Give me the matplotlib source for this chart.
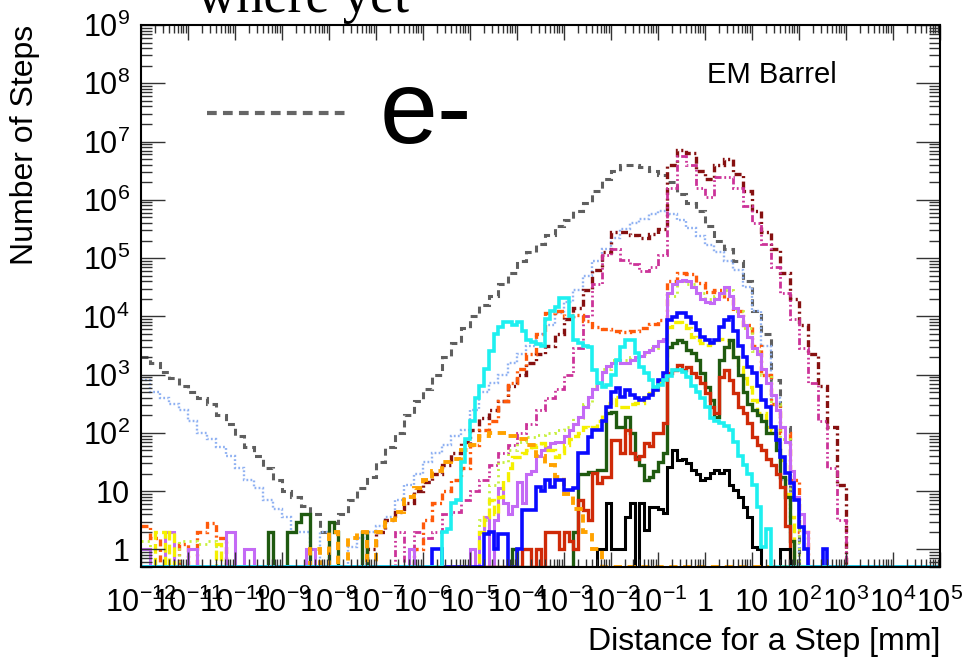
import numpy as np
import matplotlib
matplotlib.use("Agg")
import matplotlib.pyplot as plt
from matplotlib.ticker import FixedLocator, NullFormatter

plt.rcParams['font.family'] = ['Liberation Sans', 'DejaVu Sans']
plt.rcParams['mathtext.fontset'] = 'custom'
plt.rcParams['mathtext.rm'] = 'Liberation Sans'
plt.rcParams['mathtext.it'] = 'Liberation Sans:italic'
plt.rcParams['lines.scale_dashes'] = False

X_LO, X_HI = -12.0, 5.0   # log10(distance / mm)
Y_MIN, Y_MAX = 0.5, 1e9

# ---- data: log10(number of steps) per bin, None = empty bin ----
# dashed / dotted histograms use 0.2 decade bins, solid ones 0.1 decade bins

gray_start = -12.0   # e-
gray = [3.3, 3.2, 3.05, 2.95, 2.8, 2.7, 2.6, 2.5, 2.3, 2.15,
        1.95, 1.75, 1.6, 1.4, 1.2, 1.0, 0.9, 0.75, 0.6, 0.3,
        0.45, 0.6, 0.85, 1.05, 1.25, 1.5, 1.75, 2.0, 2.3, 2.55,
        2.75, 3.0, 3.3, 3.55, 3.8, 4.0, 4.2, 4.35, 4.55, 4.75,
        4.95, 5.1, 5.25, 5.4, 5.55, 5.65, 5.8, 5.95, 6.15, 6.35,
        6.5, 6.6, 6.6, 6.57, 6.5, 6.42, 6.3, 6.1, 5.95, 5.8,
        5.55, 5.3, 5.15, 4.95, 4.6, 4.1, 3.7, 2.9, 2.1, 0.9]

lightblue_start = -12.0
lightblue = [2.9, 2.7, 2.6, 2.5, 2.4, 2.2, 2.0, 1.9, 1.75, 1.6,
             1.4, 1.2, 1.05, 0.85, 0.7, 0.55, 0.3, 0.3, None, 0.3,
             None, None, 0.05, 0.2, 0.3, 0.4, 0.55, 0.85, 1.1, 1.3,
             1.5, 1.65, 1.8, 1.95, 2.05, 2.4, 2.7, 2.85, 3.0, 3.2,
             3.35, 3.5, 3.7, 3.85, 4.05, 4.25, 4.45, 4.7, 4.95, 5.15,
             5.35, 5.5, 5.6, 5.67, 5.75, 5.8, 5.75, 5.65, 5.52, 5.38,
             5.22, 5.1, 4.95, 4.8, 4.5, 4.1, 3.5, 2.6, 1.2, 0.3]

maroon_start = -7.2
maroon = [0.0, 0.3, 0.5, 0.65, 0.8, 1.0, 1.15, 1.3, 1.45, 1.65,
          1.85, 2.05, 2.25, 2.4, 2.55, 2.8, 3.0, 3.2, 3.35, 3.5,
          3.7, 3.95, 4.15, 4.45, 4.8, 5.1, 5.45, 5.45, 5.4, 5.35,
          5.42, 5.5, 6.6, 6.85, 6.8, 6.5, 6.35, 6.6, 6.7, 6.45,
          6.15, 5.8, 5.45, 5.15, 4.75, 4.3, 3.85, 3.35, 2.8, 2.1,
          1.1]

magenta_start = -6.6
magenta = [0.3, None, 0.3, 0.2, 0.3, 0.6, 0.65, 0.85, 1.0, 1.2,
           1.45, 1.65, 1.8, 2.0, 2.15, 2.4, 2.6, 2.75, 3.0, 3.45,
           4.0, 4.55, 5.05, 5.15, 4.97, 4.9, 4.78, 4.85, 5.05, 6.2,
           6.75, 6.6, 6.2, 6.05, 6.4, 6.4, 6.2, 5.9, 5.6, 5.25,
           4.85, 4.4, 3.95, 3.45, 2.85, 2.2, 1.4, 0.5]

orangered_start = -6.0
orangered = [0.5, 0.8, 1.0, 1.2, 1.4, 1.8, 2.05, 2.2, 2.55, 2.85,
             3.1, 3.35, 3.7, 4.05, 4.1, 4.0, 4.02, 3.92, 3.82, 3.78,
             3.75, 3.73, 3.75, 3.8, 3.87, 3.93, 4.6, 4.75, 4.72, 4.58,
             4.42, 4.45, 4.3, 4.1, 3.85, 3.5, 3.0, 2.5, 2.0, 1.2,
             0.3]
orangered_tail = [(-12.0, 0.4), (-11.8, 0.2), (-11.2, 0.1), (-10.8, 0.3),
                  (-10.6, 0.45), (-10.4, 0.2), (-6.2, 0.0)]

orange_start = -8.0
orange = [0.3, None, 0.2, 0.3, None, 0.3, 0.5, 0.65, 0.9, 1.05,
          1.2, 1.35, 1.5, 1.55, 1.7, 1.8, 1.95, 2.0, 2.0, 1.95,
          1.9, 1.8, 1.6, 1.45, 1.25, 0.95, 0.7, 0.3, 0.0]
orange_tail = [(-8.4, 0.0)]

lime_start = -4.8
lime = [0.5, 1.1, 1.5, 1.7, 1.85, 1.93, 1.97, 2.0, 2.05, 2.1,
        2.25, 2.5, 2.8, 3.1, 3.25, 3.25, 3.3, 3.35, 3.45, 3.6,
        4.35, 4.6, 4.55, 4.4, 4.3, 4.35, 4.45, 4.1, 3.8, 3.4,
        3.0, 2.5, 1.9, 0.9]
lime_tail = [(-12.0, 0.15), (-11.2, 0.15), (-11.0, 0.15), (-10.8, 0.1), (-10.6, 0.15)]

violet_start = -4.8
violet = [0.3, 0.55, None, 0.5, 1.05, 0.8, 0.6, 0.75, 1.15, 0.8,
          1.3, 1.35, 1.6, 1.7, 1.75, 1.82, 1.85, 1.85, 1.95, 2.05,
          2.15, 2.27, 2.45, 2.62, 2.75, 2.85, 3.05, 3.15, 3.2, 3.25,
          3.2, 3.2, 3.25, 3.3, 3.32, 3.38, 3.42, 3.5, 3.58, 3.62,
          4.4, 4.55, 4.6, 4.62, 4.6, 4.5, 4.4, 4.3, 4.25, 4.23,
          4.3, 4.4, 4.5, 4.35, 4.15, 4.0, 3.85, 3.65, 3.45, 3.35,
          3.1, 2.85, 2.65, 2.4, 2.1, 1.85, 1.35, 0.9, 0.6, 0.3]
violet_tail = [(-12.0, 0.0), (-11.9, 0.0), (-11.5, 0.3), (-11.4, 0.3), (-11.0, 0.0),
               (-10.9, 0.0), (-10.2, 0.3), (-10.1, 0.3), (-9.8, 0.0), (-9.7, 0.0),
               (-8.5, 0.0), (-8.4, 0.0), (-6.3, 0.0), (-5.0, 0.0)]

yellow_start = -4.8
yellow = [0.3, 0.56, 0.85, 0.6, 0.9, 1.2, 1.4, 1.59, 1.59, 1.65,
          1.7, 1.75, 1.8, 1.82, 1.71, 1.71, 1.59, 1.65, 1.8, 1.9,
          1.95, 2.0, 2.1, 2.08, 2.1, 2.2, 2.35, 2.51, 2.62, 2.44,
          2.44, 2.44, 2.5, 2.51, 2.51, 2.62, 2.68, 2.75, 2.86, 2.9,
          3.82, 3.9, 3.9, 3.85, 3.8, 3.65, 3.59, 3.55, 3.51, 3.55,
          3.59, 3.62, 3.6, 3.47, 3.3, 3.13, 2.95, 2.79, 2.56, 2.34,
          2.34, 2.1, 2.05, 1.82, 1.53, 0.96, 0.56]
yellow_tail = [(-11.7, 0.3), (-11.6, 0.3), (-11.4, 0.3), (-10.4, 0.1)]

green_start = -2.8
green = [0.3, 1.3, 1.3, 1.33, 1.33, 1.36, 1.36, 2.34, 2.36, 2.1,
         2.1, 2.27, 2.0, 1.59, 1.45, 1.2, 1.25, 1.35, 1.5, 1.65,
         3.47, 3.54, 3.59, 3.56, 3.42, 3.37, 3.25, 3.03, 2.79, 2.56,
         2.27, 3.25, 3.47, 3.59, 3.3, 3.0, 2.7, 2.5, 2.39, 2.3,
         2.2, 2.0, 2.0, 1.71, 1.24, 0.9, 0.15]
green_tail = [(-9.3, 0.3), (-8.9, 0.3), (-8.8, 0.3), (-8.7, 0.47), (-8.6, 0.6),
              (-8.5, 0.6), (-8.0, 0.47), (-7.9, 0.3), (-7.3, 0.3), (-4.1, 0.0)]

red_start = -3.9
red = [0.0, 0.0, None, 0.0, None, 0.3, 0.3, 0.3, 0.0, 0.3,
       0.15, 0.0, 0.85, 0.68, 0.5, 1.31, 1.14, 1.24, 1.24, 1.88,
       1.88, 1.65, 2.05, 1.65, 1.55, 1.6, 1.82, 1.78, 2.0, 2.0,
       2.17, 3.03, 3.08, 3.16, 3.08, 3.13, 3.03, 2.96, 2.86, 2.68,
       2.44, 2.34, 2.96, 3.08, 2.9, 2.68, 2.44, 2.34, 2.17, 1.93,
       1.8, 1.7, 1.55, 1.45, 1.3, 1.07, 0.4]

black_start = -2.3
black = [0.0, 0.0, 0.8, 0.0, 0.0, 0.0, 0.56, 0.8, None, 0.8,
         0.33, 0.73, 0.73, 0.7, 0.62, 1.41, 1.71, 1.53, 1.55, 1.48,
         1.36, 1.3, 1.19, 1.22, 1.31, 1.36, 1.31, 1.36, 1.1, 1.02,
         0.9, 0.73, 0.56, 0.04, 0.0, None, None, None, None, 0.0,
         0.0]

blue_start = -5.8
blue = [0.0, 0.0, None, None, None, None, None, None, None, None,
        None, 0.27, 0.3, 0.0, 0.27, 0.27, None, None, 0.0, 0.68,
        0.68, 0.68, 1.07, 1.0, 1.19, 1.07, 1.19, 1.19, 1.02, 1.02,
        1.05, 1.65, 1.65, 1.93, 2.05, 2.05, 2.2, 2.44, 2.7, 2.77,
        2.62, 2.74, 2.65, 2.6, 2.56, 2.6, 2.65, 2.74, 2.9, 3.03,
        3.94, 3.99, 4.05, 4.05, 3.99, 3.88, 3.77, 3.65, 3.6, 3.54,
        3.59, 3.82, 3.94, 3.99, 3.75, 3.5, 3.3, 3.13, 3.03, 2.8,
        2.56, 2.44, 2.1, 1.88, 1.59, 1.31, 1.14, 0.85, 0.39, 0.0,
        None, None, None, 0.0]

cyan_start = -5.7
cyan = [None, 0.3, 0.35, 0.8, 0.85, 1.5, 1.9, 2.2, 2.6, 2.8,
        3.1, 3.4, 3.7, 3.82, 3.9, 3.9, 3.85, 3.9, 3.75, 3.6,
        3.56, 3.52, 3.5, 3.95, 4.1, 4.16, 4.31, 4.31, 4.0, 3.6,
        3.55, 3.5, 3.47, 3.08, 2.85, 2.79, 2.82, 3.0, 3.25, 3.47,
        3.59, 3.59, 3.37, 3.13, 3.03, 2.9, 2.79, 2.82, 2.9, 2.97,
        3.08, 3.08, 3.05, 2.96, 2.8, 2.7, 2.6, 2.44, 2.25, 2.2,
        2.17, 2.12, 2.05, 1.85, 1.6, 1.45, 1.3, 1.1, 0.73, 0.04,
        0.35]

x_tick_exp = list(range(-12, 6))
y_tick_exp = list(range(0, 10))


def tick_text(e):
    if e == 0:
        return '1'
    if e == 1:
        return '10'
    return r'$\mathregular{10^{%d}}$' % e


def make_hist(start, vals, width, tail=()):
    n = int(round((X_HI - X_LO) / width))
    edges = X_LO + width * np.arange(n + 1)
    counts = np.zeros(n)
    i0 = int(round((start - X_LO) / width))
    for k, v in enumerate(vals):
        if v is not None:
            counts[i0 + k] = 10.0 ** v
    for x, v in tail:
        counts[int(round((x - X_LO) / width))] = 10.0 ** v
    # ROOT draws empty bins on the bottom of the frame
    counts = np.where(counts > 0, counts, Y_MIN)
    return counts, 10.0 ** edges


# drawing order matters: later ones sit on top (cyan is last, as in the original)
series = [
    (gray, gray_start, 0.2, (), dict(color='#5f5f5f', lw=2.2, ls=(0, (5, 3.5)))),
    (lightblue, lightblue_start, 0.2, (), dict(color='#8fb1f2', lw=1.7, ls=(0, (1.3, 1.6)))),
    (maroon, maroon_start, 0.2, (), dict(color='#861010', lw=2.4, ls=(0, (5, 2.5, 1.5, 2.5)))),
    (magenta, magenta_start, 0.2, (), dict(color='#cc3399', lw=2.0, ls=(0, (5, 2, 1.3, 2, 1.3, 2)))),
    (orangered, orangered_start, 0.2, orangered_tail, dict(color='#ff5a0a', lw=2.4, ls=(0, (5, 2.5, 1.5, 2.5)))),
    (lime, lime_start, 0.2, lime_tail, dict(color='#c6f03c', lw=2.0, ls=(0, (1.5, 3)))),
    (violet, violet_start, 0.1, violet_tail, dict(color='#c46af5', lw=2.2, ls='-')),
    (yellow, yellow_start, 0.1, yellow_tail, dict(color='#f5f000', lw=2.4, ls=(0, (7, 3)))),
    (green, green_start, 0.1, green_tail, dict(color='#1f5a10', lw=2.4, ls='-')),
    (red, red_start, 0.1, (), dict(color='#cf2a08', lw=2.4, ls='-')),
    (black, black_start, 0.1, (), dict(color='#000000', lw=2.2, ls='-')),
    (orange, orange_start, 0.2, orange_tail, dict(color='#ffa200', lw=2.8, ls=(0, (6, 4)))),
    (blue, blue_start, 0.1, (), dict(color='#0a0aff', lw=2.6, ls='-')),
    (cyan, cyan_start, 0.1, (), dict(color='#1ef0f0', lw=2.6, ls='-')),
]

fig = plt.figure(figsize=(9.66, 6.6), dpi=100)
ax = fig.add_axes([141 / 966, 93 / 660, 799 / 966, 542 / 660])
ax.set_xscale('log')
ax.set_yscale('log')

for vals, start, width, tail, st in series:
    counts, edges = make_hist(start, vals, width, tail)
    ax.stairs(counts, edges, baseline=None, color=st['color'], linewidth=st['lw'],
              linestyle=st['ls'], joinstyle='miter', capstyle='butt')

ax.set_xlim(10.0 ** X_LO, 10.0 ** X_HI)
ax.set_ylim(Y_MIN, Y_MAX)

xt = [10.0 ** e for e in x_tick_exp]
ax.xaxis.set_major_locator(FixedLocator(xt))
ax.set_xticklabels([tick_text(e) for e in x_tick_exp])
ax.xaxis.set_minor_locator(FixedLocator([m * 10.0 ** e for e in x_tick_exp[:-1] for m in range(2, 10)]))
yt = [10.0 ** e for e in y_tick_exp]
ax.yaxis.set_major_locator(FixedLocator(yt))
ax.set_yticklabels([tick_text(e) for e in y_tick_exp])
ax.yaxis.set_minor_locator(FixedLocator([m * 10.0 ** e for e in range(-1, 9) for m in range(2, 10)]))
ax.xaxis.set_minor_formatter(NullFormatter())
ax.yaxis.set_minor_formatter(NullFormatter())

ax.tick_params(which='both', direction='in', top=True, right=True, width=1.0, color='#333333')
ax.tick_params(axis='x', which='major', length=11, labelsize=22, pad=15)
ax.tick_params(axis='x', which='minor', length=5.5)
ax.tick_params(axis='y', which='major', length=17, labelsize=22, pad=8)
ax.tick_params(axis='y', which='minor', length=8)
for sp in ax.spines.values():
    sp.set_linewidth(1.5)

# legend-like entry and label
ax.plot([0.0826, 0.255], [0.838, 0.838], transform=ax.transAxes, color='#666666',
        lw=3.0, ls=(0, (7, 4.5)), solid_capstyle='butt', dash_capstyle='butt')
ax.text(0.299, 0.782, 'e-', transform=ax.transAxes, fontsize=75, va='baseline', ha='left')
ax.text(0.708, 0.893, 'EM Barrel', transform=ax.transAxes, fontsize=21, va='baseline', ha='left')

fig.text(940 / 966, 1 - 650 / 660, 'Distance for a Step [mm]', fontsize=23, ha='right', va='baseline')
fig.text(25 / 966, 1 - 25 / 660, 'Number of Steps', fontsize=23, rotation=90, ha='center', va='top')
# clipped title of the slide above the plot
fig.text(197 / 966, 1 - 12 / 660, 'where yet', fontsize=39, va='baseline', ha='left',
         family=['Liberation Serif', 'DejaVu Serif'])

fig.savefig('out.png', dpi=100)
